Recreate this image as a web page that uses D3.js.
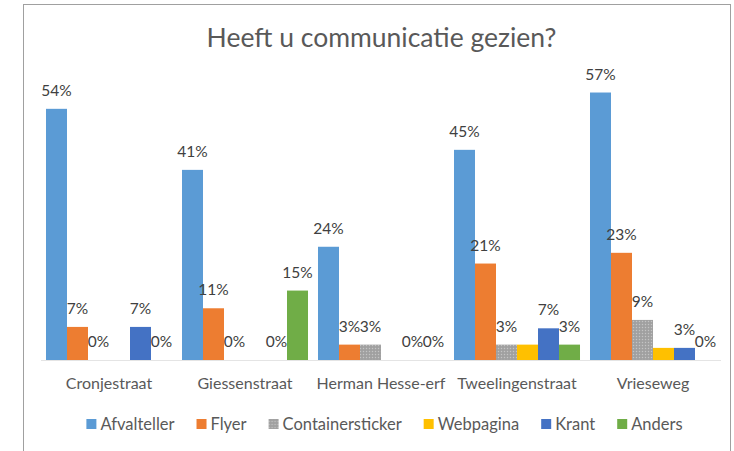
<!DOCTYPE html>
<html>
<head>
<meta charset="utf-8">
<script src="https://cdn.jsdelivr.net/npm/d3@7"></script>
<style>
  body { margin: 0; background: #fff; }
  svg { display: block; font-family: Lato, "Open Sans", sans-serif; }
</style>
</head>
<body>
<svg id="chart" width="734" height="451"></svg>
<script>
const title = 'Heeft u communicatie gezien?';
const categories = ['Cronjestraat', 'Giessenstraat', 'Herman Hesse-erf', 'Tweelingenstraat', 'Vrieseweg'];
const seriesNames = ['Afvalteller', 'Flyer', 'Containersticker', 'Webpagina', 'Krant', 'Anders'];
const colors = ['#5b9bd5', '#ed7d31', '#a5a5a5', '#ffc000', '#4472c4', '#70ad47'];

// one array per series, one value per street (null = no value)
const afvalteller = [0.539, 0.408, 0.243, 0.451, 0.574];
const flyer = [0.071, 0.111, 0.033, 0.207, 0.230];
const containersticker = [0, 0, 0.033, 0.033, 0.086];
const webpagina = [null, null, null, 0.033, 0.026];
const krant = [0.071, 0, 0, 0.068, 0.026];
const anders = [0, 0.149, 0, 0.033, 0];
const seriesValues = [afvalteller, flyer, containersticker, webpagina, krant, anders];
const labelled = [true, true, true, false, true, true];

const plot = {l: 41, r: 721, b: 360};
const svg = d3.select('#chart');

const defs = svg.append('defs');
const pat = defs.append('pattern')
  .attr('id', 'speckle')
  .attr('width', 3).attr('height', 3)
  .attr('patternUnits', 'userSpaceOnUse');
pat.append('rect').attr('width', 3).attr('height', 3).attr('fill', '#a5a5a5');
pat.append('rect').attr('width', 1).attr('height', 1).attr('fill', '#c4c4c4');
pat.append('rect').attr('x', 1.5).attr('y', 1.5).attr('width', 1).attr('height', 1).attr('fill', '#939393');
const fillOf = i => i === 2 ? 'url(#speckle)' : colors[i];

// frame
svg.append('rect')
  .attr('x', 23.5).attr('y', 4.5)
  .attr('width', 730 - 23).attr('height', 460)
  .attr('fill', '#fff')
  .attr('stroke', '#a0a0a0');

svg.append('text')
  .attr('x', 381.5).attr('y', 47)
  .attr('text-anchor', 'middle')
  .attr('font-size', 26.5)
  .attr('fill', '#595959')
  .text(title);

const x0 = d3.scaleBand().domain(categories).range([plot.l, plot.r])
  .paddingInner(0.0735).paddingOuter(0.0735 / 2);
const x1 = d3.scaleBand().domain(seriesNames).range([0, x0.bandwidth()]);
const y = d3.scaleLinear().domain([0, 0.6]).range([plot.b, plot.b - 0.6 * 466]);

const rows = [];
categories.forEach((c, ci) => {
  seriesNames.forEach((s, si) => {
    const v = seriesValues[si][ci];
    if (v !== null) rows.push({cat: c, ser: s, si, v});
  });
});

const gx = svg.append('g')
  .attr('transform', `translate(0,${plot.b})`)
  .call(d3.axisBottom(x0).tickSize(0).tickPadding(17.5).tickSizeOuter(0));
gx.select('.domain')
  .attr('stroke', '#c8c8c8')
  .attr('stroke-dasharray', '1,1');
gx.selectAll('text')
  .attr('font-size', 16)
  .attr('font-family', 'Lato, sans-serif')
  .attr('fill', '#595959');

svg.append('g').selectAll('rect').data(rows)
  .join('rect')
  .attr('x', d => x0(d.cat) + x1(d.ser))
  .attr('y', d => y(d.v))
  .attr('width', x1.bandwidth())
  .attr('height', d => y(0) - y(d.v))
  .attr('fill', d => fillOf(d.si));

const fmt = d3.format('.0%');
svg.append('g').selectAll('text').data(rows.filter(d => labelled[d.si]))
  .join('text')
  .attr('x', d => x0(d.cat) + x1(d.ser) + x1.bandwidth() / 2)
  .attr('y', d => y(d.v) - 13)
  .attr('text-anchor', 'middle')
  .attr('font-size', 15.5)
  .attr('fill', '#404040')
  .text(d => fmt(d.v));

// legend, laid out from measured text widths and centred
const leg = svg.append('g');
const items = leg.selectAll('g').data(seriesNames)
  .join('g');
items.append('rect')
  .attr('y', -5).attr('width', 10).attr('height', 10)
  .attr('fill', (d, i) => fillOf(i));
items.append('text')
  .attr('x', 14).attr('dy', '0.35em')
  .attr('font-size', 16.5)
  .attr('fill', '#595959')
  .text(d => d);
let cx = 0;
items.each(function () {
  const g = d3.select(this);
  g.attr('transform', `translate(${cx},0)`);
  cx += 14 + g.select('text').node().getComputedTextLength() + 22;
});
const legW = cx - 22;
leg.attr('transform', `translate(${384.5 - legW / 2},424)`);
</script>
</body>
</html>
